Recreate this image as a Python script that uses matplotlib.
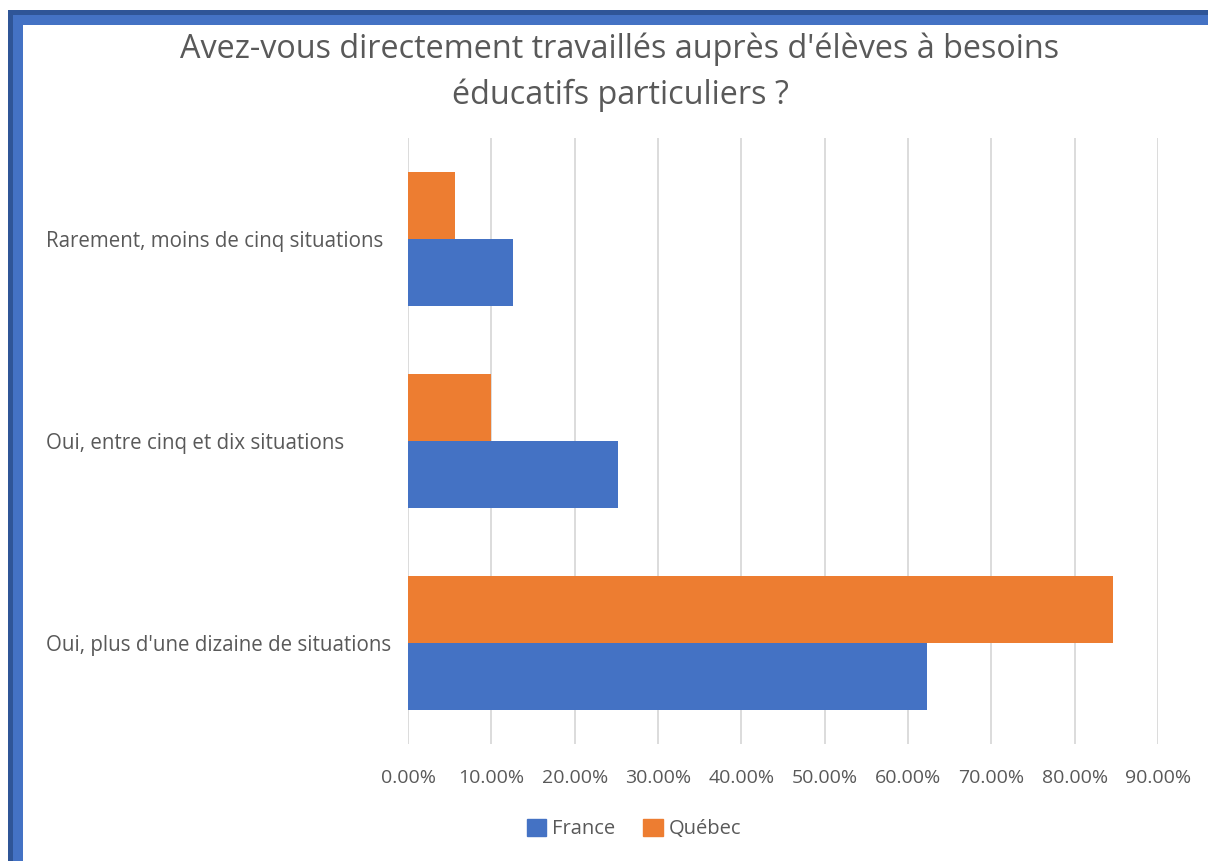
import matplotlib
matplotlib.use('Agg')
import matplotlib.pyplot as plt
from matplotlib.patches import Rectangle, Patch
import numpy as np

plt.rcParams['font.family'] = ['Open Sans', 'DejaVu Sans']

# données
categories = ["Rarement, moins de cinq situations",
              "Oui, entre cinq et dix situations",
              "Oui, plus d'une dizaine de situations"]
france = [12.6, 25.2, 62.3]
quebec = [5.6, 10.0, 84.6]
series_names = ["France", "Québec"]
ticks = np.arange(0, 100, 10)

BLUE = '#4472C4'
ORANGE = '#ED7D31'
GREY = '#595959'

W, H = 1208, 861
fig = plt.figure(figsize=(W / 100, H / 100), dpi=100)

def px_rect(x0, y0, x1, y1, color):
    # coordonnées en pixels (origine en haut à gauche)
    fig.add_artist(Rectangle((x0 / W, 1 - y1 / H), (x1 - x0) / W, (y1 - y0) / H,
                             transform=fig.transFigure, color=color, lw=0))

# cadre bleu (capture d'écran Excel)
px_rect(8, 10, 13, H, '#2F5597')
px_rect(8, 10, W, 15, '#2F5597')
px_rect(13, 15, 23, H, BLUE)
px_rect(13, 15, W, 25, BLUE)

ax = fig.add_axes([408 / W, 1 - 744 / H, (1158 - 408) / W, (744 - 138) / H])

y = np.arange(len(categories))
h = 0.33
ax.barh(y + h / 2, france, height=h, color=BLUE, label=series_names[0], zorder=3)
ax.barh(y - h / 2, quebec, height=h, color=ORANGE, label=series_names[1], zorder=3)

ax.set_xlim(0, 90)
ax.set_ylim(2.5, -0.5)
ax.set_xticks(ticks)
ax.set_xticklabels([f"{t:.2f}%" for t in ticks], color=GREY, fontsize=14)
ax.set_yticks(y)
ax.set_yticklabels(categories, color=GREY, fontsize=14.8)
for lab in ax.get_yticklabels():
    lab.set_ha('left')
ax.tick_params(axis='y', length=0, pad=(408 - 46) * 0.72)
ax.tick_params(axis='x', length=0, pad=18)
ax.grid(axis='x', color='#d9d9d9', lw=1.3, zorder=0)
for s in ax.spines.values():
    s.set_visible(False)

fig.text(620 / W, 1 - 72 / H,
         "Avez-vous directement travaillés auprès d'élèves à besoins\néducatifs particuliers ?",
         ha='center', va='center', fontsize=23.3, color=GREY, linespacing=1.5)

handles = [Patch(color=BLUE, label=series_names[0]), Patch(color=ORANGE, label=series_names[1])]
fig.legend(handles=handles, loc='center', bbox_to_anchor=(634 / W, 1 - 829 / H), ncol=2,
           frameon=False, fontsize=14.5, labelcolor=GREY, handlelength=0.95, handleheight=0.95,
           handletextpad=0.3, columnspacing=1.4)

fig.savefig('out.png', dpi=100, facecolor='white')
